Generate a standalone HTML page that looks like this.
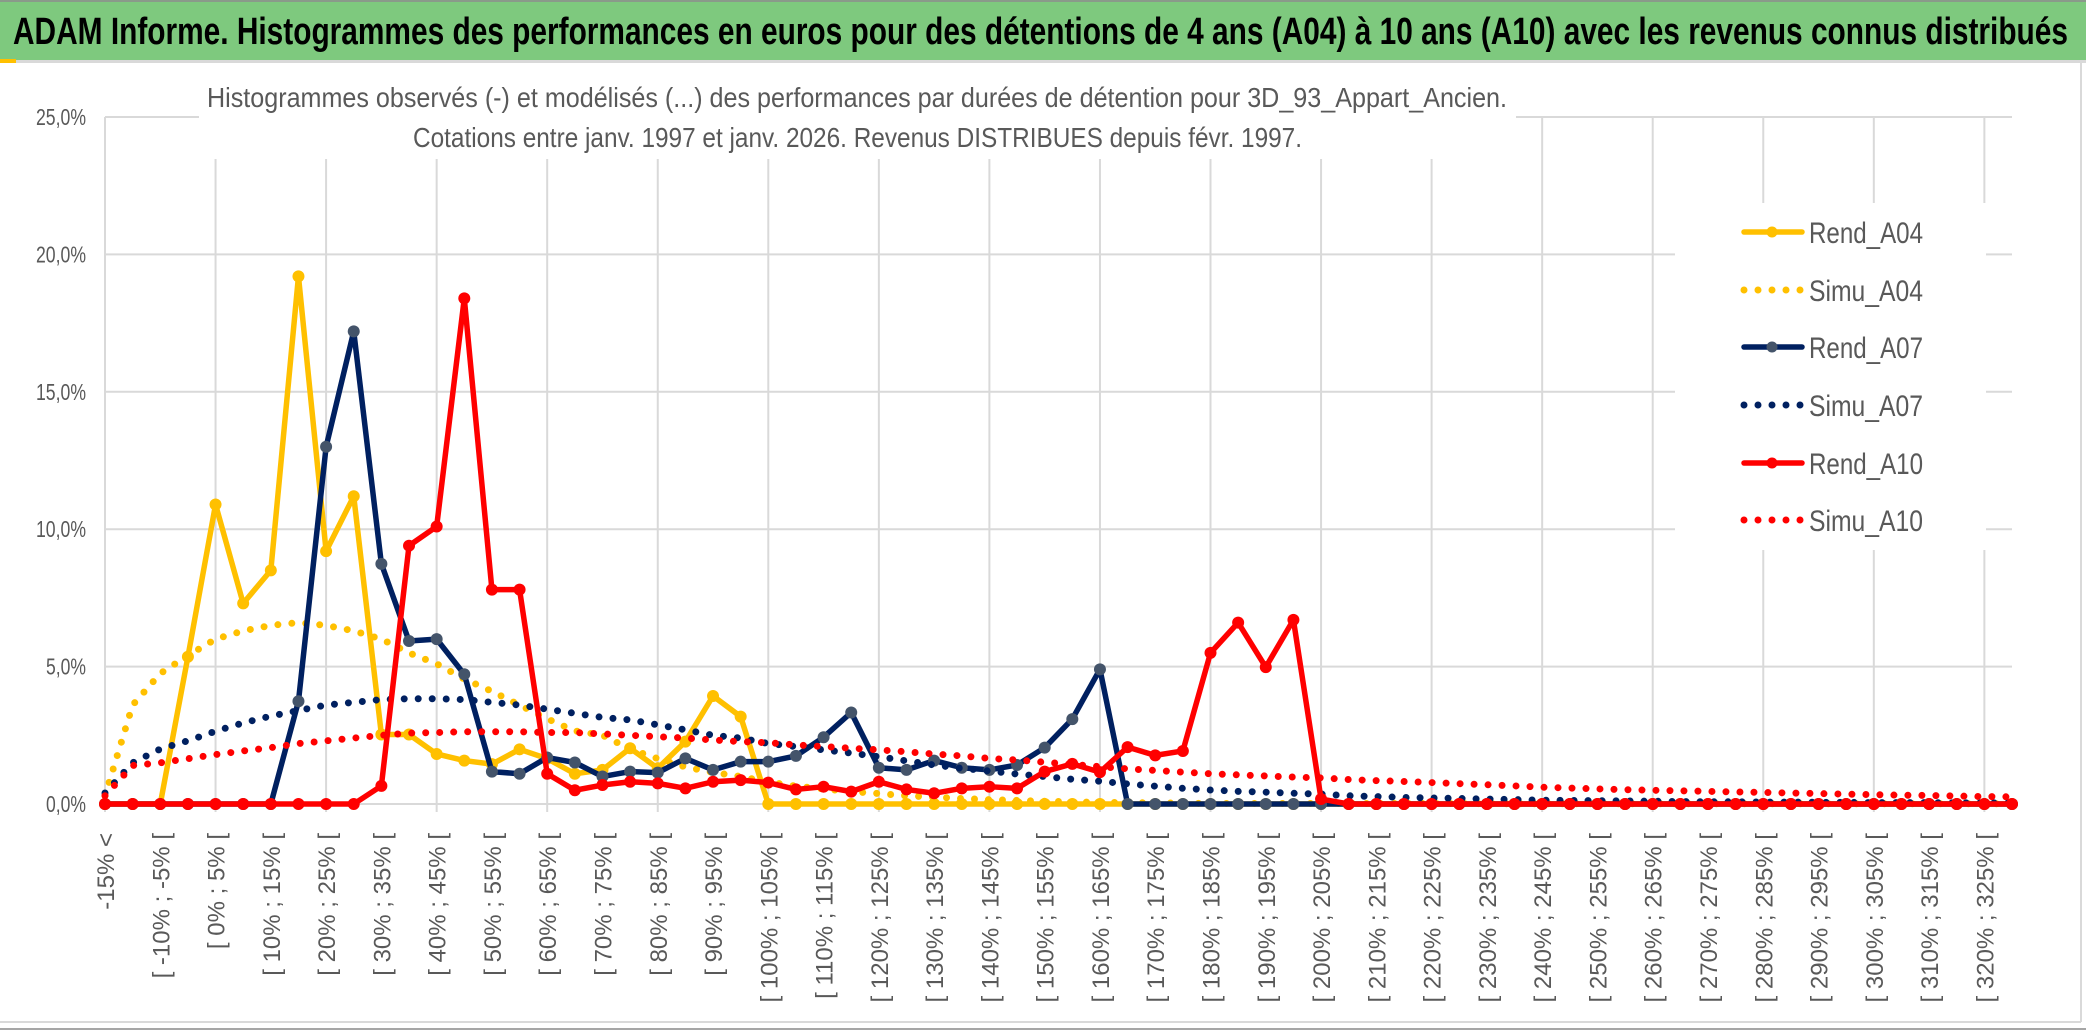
<!DOCTYPE html>
<html><head><meta charset="utf-8"><style>
html,body{margin:0;padding:0;background:#fff;}
svg{display:block;}
</style></head><body>
<svg id="chart" width="2086" height="1031" viewBox="0 0 2086 1031" xmlns="http://www.w3.org/2000/svg">
  <rect x="0" y="0" width="2086" height="1031" fill="#ffffff"/>
  <rect x="0" y="0" width="2086" height="60" fill="#7ec97e"/>
  <rect x="0" y="0" width="2086" height="2" fill="#8a9a8a"/>
  <rect x="0" y="60" width="2086" height="3" fill="#d9d9d9"/>
  <rect x="0" y="59" width="16" height="4" fill="#ffc000"/>
  <text x="13" y="44" font-family="Liberation Sans, sans-serif" font-weight="bold" font-size="38" fill="#000" textLength="2055" lengthAdjust="spacingAndGlyphs">ADAM Informe. Histogrammes des performances en euros pour des détentions de 4 ans (A04) à 10 ans (A10) avec les revenus connus distribués</text>
  <line x1="2081" y1="63" x2="2081" y2="1022" stroke="#d9d9d9" stroke-width="2"/>
  <line x1="0" y1="1022" x2="2081" y2="1022" stroke="#d9d9d9" stroke-width="2"/>
  <line x1="0" y1="1029" x2="2086" y2="1029" stroke="#a6a6a6" stroke-width="2"/>
  <g id="grid"></g>
  <rect x="199" y="64" width="1317" height="95" fill="#fff"/>
  <rect x="1675" y="203" width="311" height="347" fill="#fff"/>
  <text x="207" y="107" font-family="Liberation Sans, sans-serif" font-size="28" fill="#595959" textLength="1300" lengthAdjust="spacingAndGlyphs">Histogrammes observés (-) et modélisés (...) des performances par durées de détention pour 3D_93_Appart_Ancien.</text>
  <text x="413" y="147" font-family="Liberation Sans, sans-serif" font-size="28" fill="#595959" textLength="889" lengthAdjust="spacingAndGlyphs">Cotations entre janv. 1997 et janv. 2026. Revenus DISTRIBUES depuis févr. 1997.</text>
  <g id="yaxis"></g>
  <g id="xaxis"></g>
  <g id="series"></g>
  <g id="legend"></g>
</svg>
<script>
const yTicks = [0, 5, 10, 15, 20, 25];
const yTickLabels = ["0,0%", "5,0%", "10,0%", "15,0%", "20,0%", "25,0%"];
const rendA04 = [0,0,0,5.36,10.9,7.3,8.5,19.2,9.2,11.2,
  2.53,2.53,1.82,1.58,1.45,1.99,1.65,1.1,1.24,2.03,
  1.3,2.27,3.93,3.18,0,0,0,0,0,0,
  0,0,0,0,0,0,0,0,0,0,
  0,0,0,0,0,0,0,0,0,0,
  0,0,0,0,0,0,0,0,0,0,
  0,0,0,0,0,0,0,0,0,0];
const simuA04 = [0.3,3.6,4.75,5.4,6.0,6.3,6.5,6.6,6.5,6.3,
  6.0,5.5,5.1,4.55,4.1,3.6,3.1,2.66,2.5,2.0,
  1.65,1.35,1.15,1.0,0.8,0.65,0.55,0.45,0.38,0.3,
  0.25,0.2,0.16,0.13,0.1,0.08,0.06,0.05,0.04,0.03,
  0.02,0.02,0.02,0.02,0.02,0.02,0.02,0.02,0.02,0.02,
  0.01,0.01,0.01,0.01,0.01,0.01,0.01,0.01,0.01,0.01,
  0.01,0.01,0.01,0.01,0.01,0.01,0.01,0.01,0.01,0.01];
const rendA07 = [0,0,0,0,0,0,0,3.74,13.0,17.2,
  8.74,5.93,6.0,4.72,1.18,1.1,1.69,1.51,1.0,1.18,
  1.14,1.66,1.24,1.54,1.54,1.75,2.43,3.33,1.32,1.24,
  1.58,1.32,1.24,1.42,2.05,3.09,4.9,0,0,0,
  0,0,0,0,0,0,0,0,0,0,
  0,0,0,0,0,0,0,0,0,0,
  0,0,0,0,0,0,0,0,0,0];
const simuA07 = [0.4,1.5,2.0,2.3,2.65,2.95,3.2,3.4,3.6,3.7,
  3.8,3.83,3.83,3.8,3.7,3.6,3.45,3.3,3.15,3.06,
  2.88,2.7,2.5,2.4,2.2,2.09,1.97,1.85,1.72,1.57,
  1.42,1.3,1.2,1.09,1.0,0.9,0.83,0.73,0.65,0.57,
  0.51,0.46,0.43,0.39,0.36,0.3,0.27,0.24,0.22,0.2,
  0.18,0.16,0.14,0.13,0.12,0.11,0.1,0.09,0.08,0.08,
  0.07,0.07,0.06,0.06,0.05,0.05,0.05,0.04,0.04,0.04];
const rendA10 = [0,0,0,0,0,0,0,0,0,0,
  0.66,9.4,10.1,18.4,7.8,7.8,1.1,0.5,0.69,0.81,
  0.75,0.57,0.81,0.87,0.78,0.53,0.63,0.45,0.81,0.53,
  0.39,0.57,0.63,0.57,1.18,1.46,1.16,2.07,1.77,1.93,
  5.5,6.6,4.98,6.7,0.18,0,0,0,0,0,
  0,0,0,0,0,0,0,0,0,0,
  0,0,0,0,0,0,0,0,0,0];
const simuA10 = [0.3,1.4,1.5,1.65,1.8,1.93,2.05,2.2,2.3,2.4,
  2.5,2.58,2.6,2.63,2.63,2.63,2.6,2.6,2.55,2.5,
  2.45,2.4,2.33,2.27,2.23,2.15,2.09,2.03,1.97,1.9,
  1.82,1.75,1.66,1.6,1.52,1.44,1.36,1.28,1.22,1.16,
  1.1,1.06,1.02,0.98,0.95,0.89,0.85,0.82,0.78,0.74,
  0.7,0.66,0.61,0.58,0.55,0.52,0.5,0.48,0.46,0.44,
  0.42,0.4,0.38,0.36,0.34,0.32,0.31,0.29,0.27,0.26];
const seriesNames = ["Rend_A04","Simu_A04","Rend_A07","Simu_A07","Rend_A10","Simu_A10"];

const categories = ["-15% <"];
for (let k = 1; k < 70; k++) { const a = -15 + 5 * (k - 1); categories.push("[ " + a + "% ; " + (a + 5) + "% ["); }

const NS = "http://www.w3.org/2000/svg";
const X0 = 105, X1 = 2012, Y0 = 804, YTOP = 117;
const n = categories.length;
function xs(i) { return X0 + i * (X1 - X0) / (n - 1); }
function ys(v) { return Y0 - v * (Y0 - YTOP) / 25; }
function mk(tag, attrs, parent) { const e = document.createElementNS(NS, tag); for (const k in attrs) e.setAttribute(k, attrs[k]); parent.appendChild(e); return e; }

const grid = document.getElementById('grid');
yTicks.forEach(function (t) {
  const l = mk('line', {x1: X0, x2: X1, y1: ys(t), y2: ys(t), stroke: '#d9d9d9', 'stroke-width': 2}, grid);
  
  
});
for (let i = 0; i < n; i += 4) {
  const l = mk('line', {x1: xs(i), x2: xs(i), y1: ys(25), y2: Y0 + 8, stroke: '#d9d9d9', 'stroke-width': 2}, grid);
  
  
}

const yaxis = document.getElementById('yaxis');
yTicks.forEach(function (t, k) {
  const tx = mk('text', {x: 86, y: ys(t) + 8, 'text-anchor': 'end', 'font-family': 'Liberation Sans, sans-serif', 'font-size': 23, fill: '#595959', textLength: yTickLabels[k].length * 10, lengthAdjust: 'spacingAndGlyphs'}, yaxis);
  tx.textContent = yTickLabels[k];
  
  
});

const xaxis = document.getElementById('xaxis');
for (let i = 0; i < n; i += 2) {
  const bx = xs(i) + 9, by = 833;
  const tx = mk('text', {x: bx, y: by, transform: 'rotate(-90 ' + bx + ' ' + by + ')', 'text-anchor': 'end', 'font-family': 'Liberation Sans, sans-serif', 'font-size': 24, fill: '#595959'}, xaxis);
  tx.textContent = categories[i];
  
  
}

const seriesG = document.getElementById('series');
function solid(vals, color, mcolor, name) {
  const g = mk('g', {}, seriesG);
  
  
  const pts = vals.map(function (v, i) { return xs(i) + ',' + ys(v); }).join(' ');
  const pl = mk('polyline', {points: pts, fill: 'none', stroke: color, 'stroke-width': 5.5, 'stroke-linejoin': 'round'}, g);
  
  
  vals.forEach(function (v, i) {
    const c = mk('circle', {cx: xs(i), cy: ys(v), r: 6, fill: mcolor}, g);
    
    
  });
}
function dotted(vals, color, name) {
  const pts = vals.map(function (v, i) { return xs(i) + ',' + ys(v); }).join(' ');
  const pl = mk('polyline', {points: pts, fill: 'none', stroke: color, 'stroke-width': 7, 'stroke-linecap': 'round', 'stroke-dasharray': '0 14'}, seriesG);
  
  
}
solid(rendA04, '#ffc000', '#ffc000', 'rend-a04');
dotted(simuA04, '#ffc000', 'simu-a04');
solid(rendA07, '#002060', '#44546a', 'rend-a07');
dotted(simuA07, '#002060', 'simu-a07');
solid(rendA10, '#ff0000', '#ff0000', 'rend-a10');
dotted(simuA10, '#ff0000', 'simu-a10');

const legend = document.getElementById('legend');
const legColors = ['#ffc000', '#ffc000', '#002060', '#002060', '#ff0000', '#ff0000'];
const legMarker = ['#ffc000', null, '#44546a', null, '#ff0000', null];
const legY = [232, 290, 347, 405, 463, 520];
seriesNames.forEach(function (nm, k) {
  const g = mk('g', {}, legend);
  
  
  const y = legY[k];
  if (legMarker[k]) {
    mk('line', {x1: 1744, x2: 1802, y1: y, y2: y, stroke: legColors[k], 'stroke-width': 5.5, 'stroke-linecap': 'round'}, g);
    mk('circle', {cx: 1772, cy: y, r: 5.5, fill: legMarker[k]}, g);
  } else {
    mk('line', {x1: 1744, x2: 1802, y1: y, y2: y, stroke: legColors[k], 'stroke-width': 7, 'stroke-linecap': 'round', 'stroke-dasharray': '0 14'}, g);
  }
  const t = mk('text', {x: 1809, y: y + 11, 'font-family': 'Liberation Sans, sans-serif', 'font-size': 30, fill: '#595959', textLength: 114, lengthAdjust: 'spacingAndGlyphs'}, g);
  t.textContent = nm;
});
</script>
</body></html>
